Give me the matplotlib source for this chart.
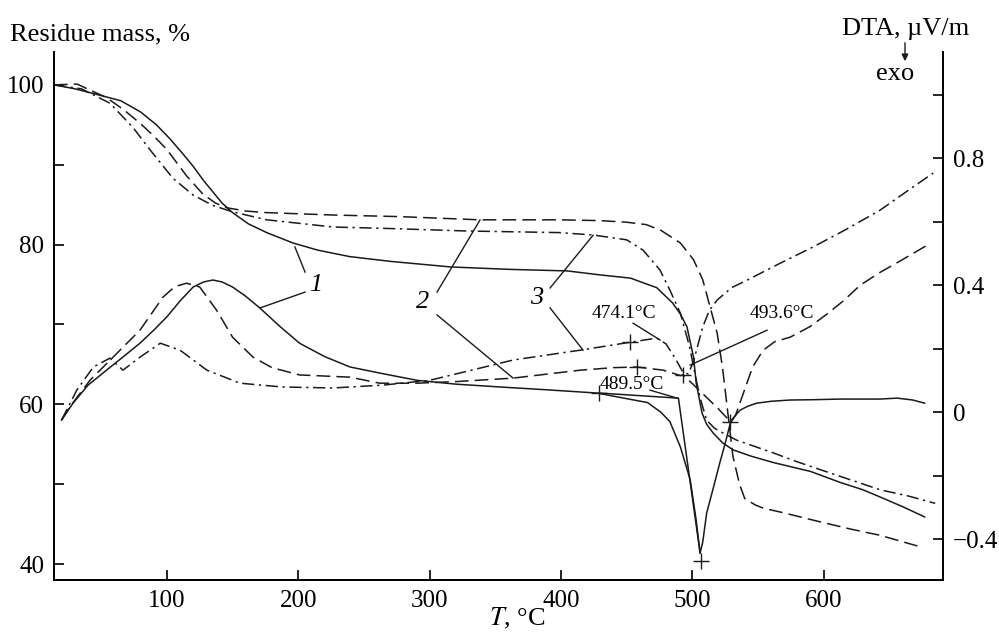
import matplotlib
matplotlib.use('Agg')
import matplotlib.pyplot as plt

plt.rcParams['font.family'] = ['Liberation Serif', 'DejaVu Serif']
plt.rcParams['mathtext.fontset'] = 'stix'

# residue mass (TG) curves, %
tg1_t = [14, 30, 49, 65, 80, 92, 102, 112, 120, 128, 135, 142, 150, 162, 176, 196, 215, 239, 270,
         316, 360, 405, 430, 453, 473, 485, 491, 496, 501, 503, 507.5, 511, 516, 523, 531, 545, 562,
         590, 613, 630, 643, 660, 677]
tg1_m = [100, 99.5, 98.7, 98.0, 96.6, 95.0, 93.3, 91.4, 89.8, 88.0, 86.6, 85.2, 84.0, 82.6, 81.5,
         80.2, 79.3, 78.5, 77.9, 77.2, 76.9, 76.7, 76.2, 75.8, 74.6, 72.7, 71.3, 69.7, 65.9, 62.7,
         58.9, 57.5, 56.4, 55.2, 54.3, 53.5, 52.7, 51.6, 50.2, 49.3, 48.4, 47.2, 45.9]

tg2_t = [14, 31.5, 54, 67, 79.5, 90, 100, 115, 127.5, 137, 146, 160, 176, 226.5, 277.5, 338, 399,
         430, 450, 465, 476, 491, 501, 508, 513.6, 519, 523, 526, 531, 536, 540, 548, 554, 570, 592,
         620, 643, 660, 675]
tg2_m = [100, 100.1, 98.4, 96.9, 95.2, 93.6, 91.9, 88.6, 86.3, 85.2, 84.6, 84.2, 84, 83.7, 83.5,
         83.1, 83.1, 83, 82.8, 82.5, 81.8, 80.2, 78.1, 75.6, 72.2, 68.9, 64.7, 60.5, 53.5, 50, 48.2,
         47.4, 47.0, 46.4, 45.5, 44.4, 43.6, 42.8, 42.1]

tg3_t = [14, 35, 56.6, 74, 87, 104.6, 120, 135, 150, 176, 226.5, 272, 328.5, 399, 424.5, 450, 462.6,
         475.5, 483, 491, 498, 502, 506, 511, 517, 523.5, 534, 548, 562, 580, 605, 625, 643, 665, 685]
tg3_m = [100, 99.5, 97.7, 94.7, 91.9, 88.3, 86.2, 84.9, 84.1, 83.1, 82.2, 82, 81.7, 81.5, 81.2, 80.6,
         79.3, 76.8, 74.3, 71.4, 67.2, 63.9, 60.8, 58, 57, 56.4, 55.5, 54.7, 53.9, 52.8, 51.4, 50.3,
         49.3, 48.5, 47.6]

# DTA curves, uV/m
dta1_t = [19.8, 28.5, 40, 54, 67, 79.5, 90, 100, 110, 120, 128, 135, 142, 150, 160, 171, 186, 201,
          220, 239.5, 262, 290.5, 320, 354, 390, 427.5, 453, 466, 476, 483, 491, 498.5, 503, 506,
          508, 511, 516, 521, 525, 529, 533, 536.5, 542, 549, 560, 574.6, 592, 613, 643, 656, 668, 677]
dta1_d = [-0.025, 0.028, 0.085, 0.132, 0.175, 0.217, 0.258, 0.3, 0.35, 0.394, 0.41, 0.416, 0.41,
          0.394, 0.365, 0.327, 0.27, 0.217, 0.175, 0.142, 0.123, 0.1, 0.088, 0.079, 0.07, 0.06,
          0.04, 0.03, 0.0, -0.03, -0.11, -0.214, -0.34, -0.444, -0.41, -0.318, -0.24, -0.16, -0.1,
          -0.035, -0.01, 0.006, 0.018, 0.028, 0.034, 0.038, 0.039, 0.041, 0.041, 0.044, 0.038, 0.028]

dta2_t = [19.8, 26, 41.4, 59, 79.5, 97, 106, 115, 125, 138, 150, 165.6, 180, 201, 239.5, 262, 290.5,
          320, 363.6, 414.6, 440, 458, 478, 491, 493, 500, 510, 520, 529, 533, 539, 546, 554, 563,
          574.6, 590, 603, 615, 628, 643, 660, 679]
dta2_d = [-0.025, 0.016, 0.1, 0.173, 0.258, 0.362, 0.395, 0.406, 0.394, 0.32, 0.236, 0.173, 0.14,
          0.117, 0.11, 0.091, 0.091, 0.096, 0.107, 0.132, 0.14, 0.142, 0.132, 0.115, 0.117, 0.09,
          0.05, 0.01, -0.03, -0.01, 0.06, 0.142, 0.195, 0.222, 0.236, 0.27, 0.31, 0.35, 0.40, 0.44,
          0.48, 0.526]

dta3_t = [19.8, 31.5, 44, 56.6, 66.5, 79.5, 95, 110, 130.5, 155.7, 188, 226.5, 264.6, 300, 330,
          363.6, 414.6, 452.7, 473, 480, 487, 493, 497, 501, 508, 513, 519, 530, 542, 567, 592, 617,
          643, 665, 683.5]
dta3_d = [-0.025, 0.07, 0.142, 0.17, 0.132, 0.173, 0.217, 0.195, 0.132, 0.091, 0.079, 0.076, 0.085,
          0.1, 0.13, 0.164, 0.195, 0.22, 0.233, 0.215, 0.17, 0.125, 0.12, 0.16, 0.268, 0.32, 0.353,
          0.392, 0.416, 0.469, 0.52, 0.575, 0.636, 0.70, 0.753]

# onset tangent construction on curve 1 and marked points
tan_t = [429, 489.5, 506]
tan_d = [0.06, 0.044, -0.444]
cross_t = [429, 458, 452.7, 493, 529, 507]
cross_d = [0.06, 0.142, 0.22, 0.117, -0.03, -0.47]

dash = (0, (9, 4))
dashdot = (0, (8, 3, 1.5, 3))
lw = 1.1
col = '#1a1a1a'

fig = plt.figure(figsize=(9.99, 6.33), dpi=100)
ax = fig.add_axes([0.054, 0.0837, 0.89, 0.834])
ax2 = ax.twinx()

ax.plot(tg1_t, tg1_m, color=col, lw=lw, ls='-')
ax.plot(tg2_t, tg2_m, color=col, lw=lw, ls=dash)
ax.plot(tg3_t, tg3_m, color=col, lw=lw, ls=dashdot)

ax2.plot(dta1_t, dta1_d, color=col, lw=lw, ls='-')
ax2.plot(dta2_t, dta2_d, color=col, lw=lw, ls=dash)
ax2.plot(dta3_t, dta3_d, color=col, lw=lw, ls=dashdot)
ax2.plot(tan_t, tan_d, color=col, lw=lw)
ax2.plot(cross_t, cross_d, ls='none', marker='+', ms=11, mew=1.0, color=col)

ax.set_xlim(14, 691)
ax.set_ylim(38, 104.1)
ax2.set_ylim(-0.529, 1.134)

ax.set_xticks([100, 200, 300, 400, 500, 600])
ax.set_yticks([40, 50, 60, 70, 80, 90, 100])
ax.set_yticklabels(['40', '', '60', '', '80', '', '100'])
ax2.set_yticks([-0.4, -0.2, 0, 0.2, 0.4, 0.6, 0.8, 1.0])
ax2.set_yticklabels(['\u22120.4', '', '0', '', '0.4', '', '0.8', ''])

for a in (ax, ax2):
    a.spines['top'].set_visible(False)
    for s in a.spines.values():
        s.set_linewidth(1.3)
    a.tick_params(direction='in', length=7, width=1.2, labelsize=18, pad=7)

# curve labels with leader lines (DTA axis coordinates)
lab_kw = dict(fontsize=19, style='italic', ha='center', va='center')
ax2.text(213.5, 0.40, '1', **lab_kw)
ax2.text(295, 0.346, '2', **lab_kw)
ax2.text(381.9, 0.359, '3', **lab_kw)
leaders = [((205.2, 0.441), (197.5, 0.520)),
           ((205.2, 0.378), (170.9, 0.328)),
           ((305.7, 0.378), (338.4, 0.605)),
           ((305.7, 0.306), (363.6, 0.107)),
           ((391.8, 0.391), (424.5, 0.557)),
           ((391.8, 0.328), (416.9, 0.195)),
           ((455, 0.280), (475.5, 0.227)),
           ((467.9, 0.069), (488.5, 0.044)),
           ((557, 0.258), (498.4, 0.148))]
for p0, p1 in leaders:
    ax2.plot([p0[0], p1[0]], [p0[1], p1[1]], color=col, lw=1.0)

ann_kw = dict(fontsize=14, ha='center', va='center')
ax2.text(448, 0.312, '474.1°C', **ann_kw)
ax2.text(454.2, 0.088, '489.5°C', **ann_kw)
ax2.text(568.5, 0.309, '493.6°C', **ann_kw)

fig.text(10 / 999, 1 - 34 / 633, 'Residue mass, %', fontsize=19, ha='left', va='center')
fig.text(906 / 999, 1 - 29 / 633, 'DTA, \u00b5V/m', fontsize=19, ha='center', va='center')
fig.text(895 / 999, 1 - 74 / 633, 'exo', fontsize=19, ha='center', va='center')
fig.patches.append(matplotlib.patches.FancyArrowPatch(
    (905 / 999, 1 - 40 / 633), (905 / 999, 1 - 64 / 633), transform=fig.transFigure,
    arrowstyle='-|>', mutation_scale=10, color=col, lw=1.0))
fig.text(517 / 999, 1 - 618 / 633, '$\\mathit{T}$, °C', fontsize=19, ha='center', va='center')

fig.savefig('out.png', dpi=100)
